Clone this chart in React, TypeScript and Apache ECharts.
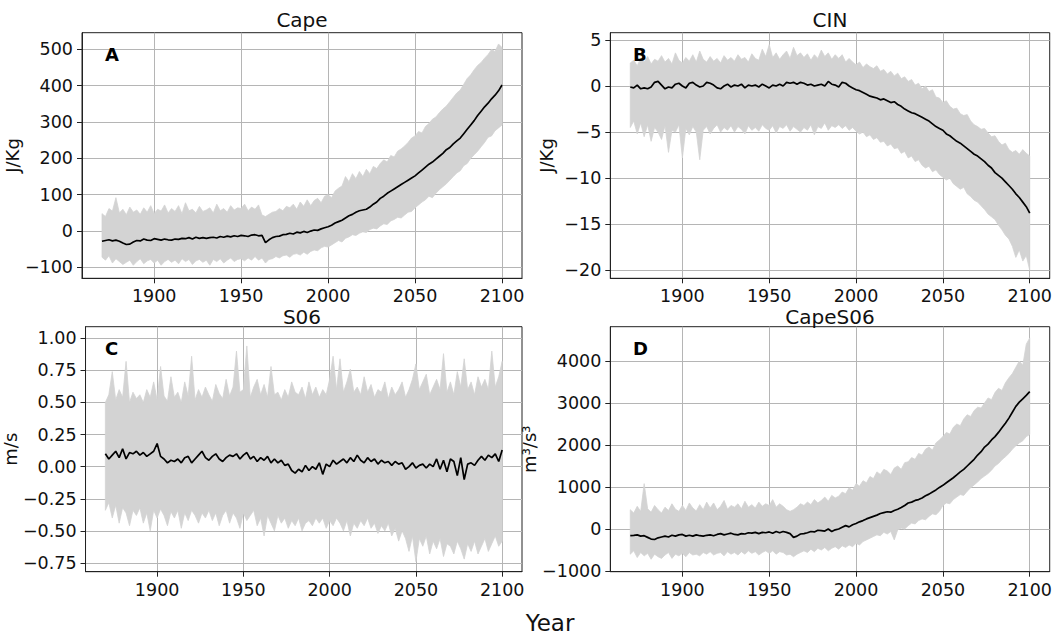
import React, { useEffect, useRef } from "react";
import * as echarts from "echarts";

const FONT = "DejaVu Sans";

const YEARS = [
  1870, 1872, 1874, 1876, 1878, 1880, 1882, 1884, 1886, 1888,
  1890, 1892, 1894, 1896, 1898, 1900, 1902, 1904, 1906, 1908,
  1910, 1912, 1914, 1916, 1918, 1920, 1922, 1924, 1926, 1928,
  1930, 1932, 1934, 1936, 1938, 1940, 1942, 1944, 1946, 1948,
  1950, 1952, 1954, 1956, 1958, 1960, 1962, 1964, 1966, 1968,
  1970, 1972, 1974, 1976, 1978, 1980, 1982, 1984, 1986, 1988,
  1990, 1992, 1994, 1996, 1998, 2000, 2002, 2004, 2006, 2008,
  2010, 2012, 2014, 2016, 2018, 2020, 2022, 2024, 2026, 2028,
  2030, 2032, 2034, 2036, 2038, 2040, 2042, 2044, 2046, 2048,
  2050, 2052, 2054, 2056, 2058, 2060, 2062, 2064, 2066, 2068,
  2070, 2072, 2074, 2076, 2078, 2080, 2082, 2084, 2086, 2088,
  2090, 2092, 2094, 2096, 2098, 2100,
];

const X_TICKS = [1900, 1950, 2000, 2050, 2100];

// ---- Panel A: Cape (J/Kg)
const CAPE_MEAN = [
  -28, -26, -24, -27, -25, -28, -33, -37, -36, -30,
  -26, -27, -22, -25, -26, -21, -23, -25, -22, -24,
  -25, -22, -23, -20, -21, -18, -22, -17, -20, -18,
  -20, -18, -17, -19, -15, -17, -14, -16, -13, -15,
  -12, -13, -15, -11, -10, -13, -12, -32, -24, -18,
  -15, -14, -10, -9, -6, -8, -3, -5, -1, -4,
  0, 3, 2, 6, 9, 12, 16, 22, 26, 30,
  36, 42, 46, 52, 56, 58, 60, 66, 74, 80,
  90, 96, 104, 110, 116, 122, 128, 134, 140, 146,
  152, 160, 168, 176, 184, 190, 198, 206, 214, 224,
  230, 240, 248, 256, 268, 280, 292, 304, 318, 330,
  342, 352, 364, 374, 386, 402,
];
const CAPE_UPPER = [
  48, 40, 62, 55, 92, 50, 60, 45, 66, 52,
  58, 46, 64, 52, 70, 48, 60, 55, 72, 50,
  62, 54, 70, 48, 78, 56, 60, 50, 68, 54,
  58, 64, 50, 74, 56, 62, 52, 70, 58, 64,
  62, 74, 56, 66, 60, 72, 44, 40, 46, 52,
  54, 62, 56, 68, 64, 74, 60, 80, 68, 86,
  70, 84, 90, 78, 96, 100, 92, 110, 118, 124,
  150, 136, 158, 144, 164, 150, 170, 158, 178, 172,
  186, 196, 190, 208, 204, 220, 226, 234, 244, 256,
  262, 274, 270, 288, 296, 308, 314, 326, 336, 344,
  356, 368, 380, 388, 404, 420, 430, 444, 456, 464,
  476, 486, 500, 494, 515, 505,
];
const CAPE_LOWER = [
  -72, -80, -68, -88, -76, -84, -92, -86, -80, -94,
  -84, -76, -90, -82, -78, -88, -80, -94, -84, -78,
  -86, -80, -90, -76, -84, -78, -92, -82, -78, -86,
  -80, -94, -78, -84, -76, -88, -80, -74, -84, -78,
  -76, -82, -74, -80, -70, -80, -74, -88, -78, -76,
  -70, -74, -68, -66, -72, -64, -62, -66, -58, -64,
  -56, -52, -54, -46, -42, -44, -38, -32, -26, -30,
  -20, -16, -10, -12, -6, -2, -4, 4, 8, 6,
  14, 20, 18, 28, 32, 38, 36, 44, 52, 54,
  64, 72, 80, 86, 96, 92, 104, 114, 122, 130,
  140, 150, 160, 166, 180, 186, 200, 210, 220, 232,
  244, 258, 262, 276, 284, 292,
];
const CAPE_TICKS = [-100, 0, 100, 200, 300, 400, 500];

// ---- Panel B: CIN (J/Kg)
const CIN_MEAN = [
  -0.1, -0.2, 0.1, -0.3, -0.2, -0.3, -0.1, 0.4, 0.5, 0.1,
  -0.3, -0.1, -0.2, 0.2, 0.3, 0.0, -0.2, 0.3, 0.4, 0.1,
  -0.1, 0.0, 0.4, 0.3, 0.1, -0.2, -0.3, 0.0, 0.2, -0.1,
  0.1, 0.0, 0.2, -0.2, 0.1, 0.0, 0.1, -0.1, 0.2, 0.0,
  -0.2, 0.1, 0.0, 0.2, 0.0, 0.4, 0.3, 0.4, 0.2, 0.4,
  0.3, 0.1, 0.2, 0.0, 0.1, 0.2, 0.0, 0.5, 0.2, 0.1,
  -0.1, 0.4, 0.3, 0.0, -0.2, -0.4, -0.5, -0.7, -0.9, -1.1,
  -1.2, -1.3, -1.5, -1.4, -1.6, -1.8, -1.7, -2.0, -2.2, -2.5,
  -2.7, -2.9, -3.0, -3.2, -3.4, -3.6, -3.8, -4.1, -4.4, -4.6,
  -4.8, -5.2, -5.4, -5.7, -6.0, -6.2, -6.5, -6.8, -7.1, -7.4,
  -7.6, -7.9, -8.2, -8.6, -8.9, -9.4, -9.7, -10.0, -10.4, -10.8,
  -11.2, -11.7, -12.1, -12.6, -13.1, -13.8,
];
const CIN_UPPER = [
  2.5, 2.8, 2.2, 3.0, 2.6, 3.2, 2.4, 2.9, 2.7, 3.3,
  2.6, 3.0, 2.4, 3.6, 2.8, 2.5, 3.1, 2.7, 3.4, 2.6,
  3.8, 2.9, 2.6, 3.2, 2.7, 3.0, 2.5, 3.3, 2.8, 3.1,
  2.7, 3.4, 2.9, 3.1, 2.6, 3.5, 3.0, 2.8, 4.0, 3.2,
  4.5, 3.1, 3.6, 2.9, 3.4, 3.8, 3.0, 4.2, 3.3, 3.6,
  3.1, 3.5, 2.8, 3.4, 3.0, 3.9, 3.2, 3.6, 2.9, 3.4,
  3.0, 3.4, 2.6, 3.0, 2.6, 2.3, 2.6, 2.0, 2.4, 2.1,
  1.9, 2.2, 1.6, 1.8, 1.3, 1.6, 1.1, 1.4, 0.8, 1.0,
  0.5, 0.7, 0.1, 0.3, -0.3, 0.0, -0.6, -0.4, -1.2, -1.3,
  -1.8, -1.6, -2.2, -2.5, -2.4, -3.0, -3.2, -3.1, -3.8, -4.2,
  -4.4, -4.7, -4.6, -5.1, -5.5, -5.4, -6.0, -6.4, -6.2, -6.9,
  -7.2, -7.0, -7.4, -6.9, -7.3, -7.6,
];
const CIN_LOWER = [
  -4.5, -3.8, -5.2, -4.0, -5.5, -4.2, -6.0, -4.5, -5.0, -5.8,
  -4.3, -7.2, -4.8, -5.0, -4.2, -7.8, -4.6, -5.3, -4.4, -5.0,
  -8.0, -4.8, -4.4, -5.2, -4.6, -4.2, -5.0, -4.5, -4.8, -4.3,
  -5.0, -4.4, -4.7, -5.2, -4.3, -4.8, -4.5, -4.9, -4.2, -4.6,
  -4.8, -4.3, -5.1, -4.4, -4.6, -4.2, -4.9, -4.4, -4.7, -5.0,
  -4.5, -4.8, -4.2, -5.3, -4.4, -4.6, -4.0, -4.8, -4.3, -4.5,
  -4.2, -4.6, -4.3, -4.8, -4.5, -4.9, -5.2, -5.0, -5.5, -5.3,
  -5.8, -5.6, -6.1, -6.0, -6.5, -6.3, -6.8, -6.7, -7.3, -7.1,
  -7.8, -7.6, -8.2, -8.0, -8.6, -8.9, -8.7, -9.3, -9.1, -9.6,
  -9.9, -10.2, -10.0, -10.6, -10.9, -11.2, -11.0, -11.7, -12.0, -12.4,
  -12.6, -13.0, -13.4, -13.9, -14.2, -14.5, -15.1, -15.6, -16.2, -16.6,
  -17.4, -18.6, -17.8, -19.0, -18.4, -20.0,
];
const CIN_TICKS = [-20, -15, -10, -5, 0, 5];

// ---- Panel C: S06 (m/s)
const S06_MEAN = [
  0.10, 0.06, 0.09, 0.12, 0.07, 0.14, 0.06, 0.11, 0.10, 0.12,
  0.09, 0.11, 0.08, 0.10, 0.12, 0.18, 0.08, 0.06, 0.03, 0.05,
  0.04, 0.06, 0.03, 0.07, 0.08, 0.03, 0.06, 0.09, 0.12, 0.07,
  0.05, 0.08, 0.10, 0.06, 0.04, 0.07, 0.09, 0.08, 0.10, 0.06,
  0.09, 0.11, 0.06, 0.08, 0.04, 0.07, 0.05, 0.08, 0.03, 0.06,
  0.03, 0.05, 0.01, 0.02, -0.03, -0.05, -0.02, -0.04, 0.01, -0.03,
  0.00, -0.02, 0.03, -0.06, 0.02, 0.00, 0.05, 0.02, 0.04, 0.06,
  0.03, 0.07, 0.04, 0.09, 0.05, 0.03, 0.07, 0.04, 0.06, 0.02,
  0.05, 0.03, 0.04, 0.01, 0.04, 0.02, 0.03, -0.02, 0.00, 0.03,
  -0.01, 0.01, 0.02, -0.01, 0.02, 0.00, 0.06, -0.02, 0.05, -0.04,
  0.06, 0.04, -0.07, 0.07, -0.10, 0.02, 0.03, 0.01, 0.05, 0.08,
  0.05, 0.09, 0.07, 0.10, 0.04, 0.13,
];
const S06_UPPER = [
  0.50, 0.56, 0.74, 0.52, 0.60, 0.54, 0.82, 0.50, 0.58, 0.53,
  0.56, 0.50, 0.60, 0.54, 0.66, 0.52, 0.78, 0.55, 0.51, 0.70,
  0.54, 0.58, 0.50, 0.66, 0.55, 0.86, 0.52, 0.60, 0.54, 0.62,
  0.56, 0.51, 0.64, 0.57, 0.53, 0.68, 0.55, 0.62, 0.90, 0.58,
  0.60, 0.94, 0.54, 0.62, 0.68, 0.56, 0.64, 0.54, 0.78, 0.56,
  0.58, 0.52, 0.60, 0.54, 0.66, 0.58, 0.56, 0.62, 0.53, 0.66,
  0.56, 0.62, 0.54, 0.60, 0.56, 0.68, 0.86, 0.60, 0.84, 0.58,
  0.66, 0.76, 0.58, 0.62, 0.56, 0.70, 0.58, 0.64, 0.54, 0.60,
  0.58, 0.66, 0.53, 0.62, 0.56, 0.60, 0.66, 0.54, 0.60, 0.68,
  0.80, 0.60, 0.66, 0.72, 0.56, 0.62, 0.68, 0.60, 0.88, 0.58,
  0.66, 0.56, 0.74, 0.62, 0.84, 0.60, 0.66, 0.56, 0.70, 0.62,
  0.68, 0.60, 0.90, 0.62, 0.70, 0.82,
];
const S06_LOWER = [
  -0.34, -0.28, -0.40, -0.30, -0.44, -0.32, -0.36, -0.46, -0.34, -0.38,
  -0.32, -0.44, -0.36, -0.50, -0.34, -0.40, -0.33, -0.38, -0.46, -0.35,
  -0.40, -0.34, -0.48, -0.36, -0.42, -0.34, -0.38, -0.44, -0.36, -0.40,
  -0.34, -0.42, -0.36, -0.46, -0.38, -0.34, -0.44, -0.36, -0.40, -0.48,
  -0.36, -0.42, -0.38, -0.34, -0.46, -0.40, -0.54, -0.38, -0.44, -0.50,
  -0.38, -0.44, -0.40, -0.48, -0.42, -0.46, -0.40, -0.50, -0.44, -0.42,
  -0.46, -0.40, -0.44, -0.40, -0.48, -0.42, -0.46, -0.40, -0.44, -0.50,
  -0.42, -0.54, -0.44, -0.48, -0.42, -0.46, -0.40, -0.48, -0.44, -0.52,
  -0.46, -0.50, -0.44, -0.54, -0.48, -0.58, -0.50, -0.56, -0.66, -0.54,
  -0.74, -0.56, -0.62, -0.54, -0.68, -0.58, -0.64, -0.56, -0.70, -0.60,
  -0.62, -0.68, -0.58, -0.64, -0.72, -0.60, -0.66, -0.58, -0.68, -0.62,
  -0.56, -0.66, -0.60, -0.54, -0.62, -0.58,
];
const S06_TICKS = [-0.75, -0.5, -0.25, 0, 0.25, 0.5, 0.75, 1.0];

// ---- Panel D: CapeS06 (m3/s3)
const CAPES06_MEAN = [
  -160, -150, -140, -170, -160, -200, -240, -250, -210, -190,
  -170, -190, -150, -170, -140, -130, -170, -150, -170, -140,
  -160, -170, -150, -140, -160, -130, -110, -140, -120, -100,
  -130, -140, -110, -120, -90, -100, -80, -110, -80, -90,
  -70, -100, -60, -90, -60, -80, -110, -200, -170, -120,
  -110, -90, -60, -70, -30, -40, -50, 0, -60, -20,
  0, 40, 80, 50, 100, 130, 170, 200, 240, 270,
  300, 330, 370, 390, 410, 400, 440, 470, 510, 560,
  620, 640, 680, 700, 740, 790, 830, 880, 930, 990,
  1040, 1100, 1160, 1220, 1290, 1360, 1420, 1500, 1580, 1660,
  1760, 1840, 1950, 2020, 2120, 2200, 2300, 2410, 2520, 2640,
  2780, 2920, 3020, 3100, 3180, 3270,
];
const CAPES06_UPPER = [
  460, 380, 540, 420, 1080, 480, 400, 560, 460, 380,
  520, 440, 600, 470, 420, 560, 440, 620, 500, 430,
  580, 460, 640, 500, 620, 460, 540, 680, 470, 560,
  520, 600, 480, 660, 520, 580, 500, 640, 540, 600,
  560, 700, 520, 600, 540, 460, 420, 460, 520, 600,
  560, 640, 580, 700, 620, 680, 760, 660, 800, 740,
  780, 880, 840, 980, 920, 1080, 1020, 1150, 1100, 1250,
  1200, 1360, 1300, 1420, 1380, 1300, 1450, 1500, 1420, 1580,
  1600, 1700, 1660, 1800, 1760, 1900, 1950, 1880, 2050, 2120,
  2200, 2300, 2260, 2420, 2500, 2460, 2620, 2720, 2680, 2820,
  2900, 2880, 3000, 3120, 3080, 3250, 3350, 3300, 3480, 3600,
  3700, 3850, 4000, 3900, 4400, 4550,
];
const CAPES06_LOWER = [
  -600, -520, -680, -560, -640, -580, -720, -600, -660, -700,
  -620, -560, -700, -600, -640, -580, -660, -560, -620, -600,
  -640, -560, -600, -540, -620, -580, -560, -640, -540, -600,
  -560, -620, -540, -600, -520, -580, -540, -620, -560, -520,
  -580, -520, -600, -540, -560, -620, -600, -660, -600, -560,
  -520, -560, -480, -540, -460, -500, -440, -520, -460, -420,
  -480, -400, -440, -380, -420, -340, -380, -300, -260, -220,
  -180, -140, -160, -80, -120, -60, -260, -20, 20, 0,
  80, 140, 120, 200, 240, 220, 300, 360, 340, 420,
  560, 620, 600, 700, 760, 820, 800, 900, 980, 1050,
  1120, 1200, 1260, 1320, 1400, 1500, 1560, 1650, 1720, 1800,
  1900, 1980, 2050, 2100, 2200, 2250,
];
const CAPES06_TICKS = [-1000, 0, 1000, 2000, 3000, 4000];

const TITLES = ["Cape", "CIN", "S06", "CapeS06"];
const LETTERS = ["A", "B", "C", "D"];
const Y_NAMES = ["J/Kg", "J/Kg", "m/s", "m\u00b3/s\u00b3"];
const X_NAME = "Year";

const MINUS = "\u2212";
const fmtInt = (v: number) => (v < 0 ? MINUS + Math.abs(v) : String(v));
const fmt2 = (v: number) => (v < 0 ? MINUS + Math.abs(v).toFixed(2) : v.toFixed(2));

export default function App() {
  const ref = useRef<HTMLDivElement>(null);

  useEffect(() => {
    if (!ref.current) return;
    const chart = echarts.init(ref.current, undefined, { renderer: "svg" });

    const panels = [
      { mean: CAPE_MEAN, upper: CAPE_UPPER, lower: CAPE_LOWER, ticks: CAPE_TICKS, min: -130, max: 546, fmt: fmtInt, grid: { left: 82, top: 32.7, width: 440, height: 245.6 }, gap: 53 },
      { mean: CIN_MEAN, upper: CIN_UPPER, lower: CIN_LOWER, ticks: CIN_TICKS, min: -20.87, max: 5.79, fmt: fmtInt, grid: { left: 610.3, top: 32.7, width: 440, height: 245.6 }, gap: 55 },
      { mean: S06_MEAN, upper: S06_UPPER, lower: S06_LOWER, ticks: S06_TICKS, min: -0.818, max: 1.09, fmt: fmt2, grid: { left: 82, top: 326.7, width: 440, height: 245 }, gap: 51 },
      { mean: CAPES06_MEAN, upper: CAPES06_UPPER, lower: CAPES06_LOWER, ticks: CAPES06_TICKS, min: -1017, max: 4817, fmt: fmtInt, grid: { left: 610.3, top: 326.7, width: 440, height: 245 }, gap: 53 },
    ];

    const textColor = "#111";
    const gridColor = "#b5b5b5";
    const bandColor = "#d3d3d3";

    const grids = panels.map((p) => ({
      ...p.grid,
      show: true,
      borderColor: "#222",
      borderWidth: 1,
      backgroundColor: "transparent",
      containLabel: false,
    }));

    const xAxes = panels.map((p, i) => ({
      type: "value",
      gridIndex: i,
      min: 1858.5,
      max: 2111.5,
      axisLine: { show: true, onZero: false, lineStyle: { color: "#222", width: 1 } },
      axisTick: { show: true, inside: false, length: 5, lineStyle: { color: "#222" }, customValues: X_TICKS },
      axisLabel: { show: true, customValues: X_TICKS, margin: 11, lineHeight: 14, fontSize: 17.5, fontFamily: FONT, color: textColor, formatter: (v: number) => String(v) },
      splitLine: { show: true, lineStyle: { color: gridColor, width: 1 } },
    }));

    const yAxes = panels.map((p, i) => ({
      type: "value",
      gridIndex: i,
      min: p.min,
      max: p.max,
      name: Y_NAMES[i],
      nameLocation: "middle",
      nameRotate: 90,
      nameGap: p.gap,
      nameTextStyle: { fontSize: 18, fontFamily: FONT, color: textColor },
      axisLine: { show: true, onZero: false, lineStyle: { color: "#222", width: 1 } },
      axisTick: { show: true, inside: false, length: 5, lineStyle: { color: "#222" }, customValues: p.ticks },
      axisLabel: { show: true, customValues: p.ticks, margin: 9, fontSize: 17.5, fontFamily: FONT, color: textColor, formatter: (v: number) => p.fmt(v) },
      splitLine: { show: true, lineStyle: { color: gridColor, width: 1 } },
    }));

    const series: any[] = [];
    panels.forEach((p, i) => {
      series.push({
        type: "custom",
        xAxisIndex: i,
        yAxisIndex: i,
        silent: true,
        z: 1,
        data: YEARS.map((y, k) => [y, p.lower[k], p.upper[k]]),
        encode: { x: 0, y: [1, 2] },
        renderItem: (params: any, api: any) => {
          if (params.dataIndex !== 0) return null;
          const pts: number[][] = [];
          for (let k = 0; k < YEARS.length; k++) pts.push(api.coord([YEARS[k], p.upper[k]]));
          for (let k = YEARS.length - 1; k >= 0; k--) pts.push(api.coord([YEARS[k], p.lower[k]]));
          return {
            type: "polygon",
            shape: { points: pts },
            style: { fill: bandColor, stroke: bandColor, lineWidth: 0.8 },
          };
        },
      });
      series.push({
        type: "line",
        xAxisIndex: i,
        yAxisIndex: i,
        symbol: "none",
        silent: true,
        lineStyle: { color: "#000", width: 1.7 },
        data: YEARS.map((y, k) => [y, p.mean[k]]),
        z: 3,
      });
    });

    const titlePos = [
      [302, 19.5],
      [830, 19.5],
      [302, 316.5],
      [830, 316.5],
    ];
    const letterPos = [
      [105, 54],
      [633, 54],
      [105, 348],
      [633, 348],
    ];

    const graphics: any[] = [];
    TITLES.forEach((t, i) => {
      graphics.push({
        type: "text",
        x: titlePos[i][0],
        y: titlePos[i][1],
        style: { text: t, fontSize: 20, lineHeight: 16, fontFamily: FONT, fill: textColor, textAlign: "center", textVerticalAlign: "middle", align: "center", verticalAlign: "middle" },
      });
    });
    LETTERS.forEach((t, i) => {
      graphics.push({
        type: "text",
        x: letterPos[i][0],
        y: letterPos[i][1],
        z: 10,
        style: { text: t, fontSize: 18, fontWeight: "bold", fontFamily: FONT, fill: "#000", textAlign: "left", textVerticalAlign: "middle", align: "left", verticalAlign: "middle" },
      });
    });
    graphics.push({
      type: "text",
      x: 550,
      y: 623,
      style: { text: X_NAME, fontSize: 23, fontFamily: FONT, fill: textColor, textAlign: "center", textVerticalAlign: "middle", align: "center", verticalAlign: "middle" },
    });

    chart.setOption({
      animation: false,
      backgroundColor: "#fff",
      textStyle: { fontFamily: FONT },
      grid: grids,
      xAxis: xAxes,
      yAxis: yAxes,
      series,
      graphic: graphics,
    });

    return () => chart.dispose();
  }, []);

  return (
    <div
      ref={ref}
      style={{ position: "absolute", left: 0, top: 0, width: 1055, height: 637, background: "#fff" }}
    />
  );
}
